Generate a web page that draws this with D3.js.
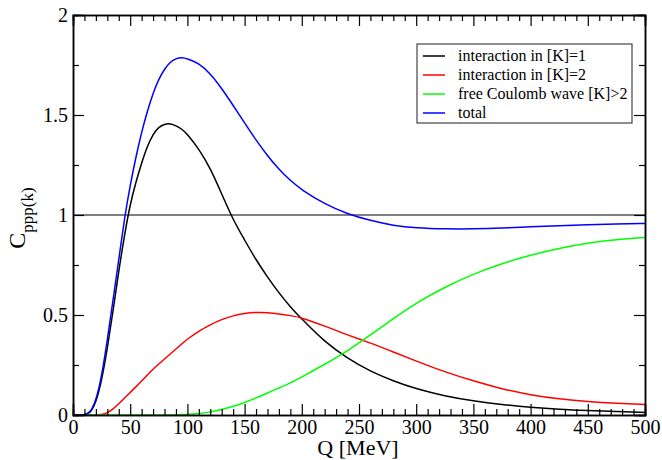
<!DOCTYPE html>
<html>
<head>
<meta charset="utf-8">
<script src="https://cdn.jsdelivr.net/npm/d3@7"></script>
<style>
  body { margin: 0; background: #fff; }
  svg text { font-family: "Liberation Serif", "DejaVu Serif", serif; }
</style>
</head>
<body>
<script>
// Q grid [MeV] and read-off curve values
const q      = [0, 10, 15, 20, 25, 30, 35, 40, 45, 50, 55, 60, 65, 70, 75, 80, 85, 90, 95, 100,
                110, 120, 130, 140, 150, 160, 170, 180, 190, 200,
                220, 240, 260, 280, 300, 325, 350, 375, 400, 425, 450, 475, 500];
const k1     = [0, 0, 0.008, 0.06, 0.17, 0.33, 0.52, 0.72, 0.90, 1.055, 1.165, 1.26, 1.345, 1.405, 1.44, 1.455, 1.457, 1.447, 1.43, 1.405,
                1.33, 1.235, 1.105, 0.975, 0.875, 0.775, 0.69, 0.61, 0.54, 0.48,
                0.365, 0.283, 0.218, 0.17, 0.13, 0.095, 0.07, 0.052, 0.038, 0.028, 0.022, 0.017, 0.013];
const k2     = [0, 0, 0, 0, 0.002, 0.01, 0.03, 0.055, 0.085, 0.113, 0.14, 0.17, 0.2, 0.23, 0.255, 0.28, 0.305, 0.33, 0.355, 0.38,
                0.42, 0.452, 0.478, 0.497, 0.508, 0.513, 0.512, 0.506, 0.497, 0.487,
                0.445, 0.40, 0.36, 0.315, 0.27, 0.215, 0.17, 0.13, 0.10, 0.08, 0.066, 0.058, 0.053];
const kfree  = [0, 0, 0, 0, 0, 0, 0, 0, 0, 0, 0, 0, 0, 0, 0, 0, 0, 0.001, 0.002, 0.003,
                0.007, 0.015, 0.027, 0.043, 0.062, 0.085, 0.11, 0.135, 0.16, 0.19,
                0.253, 0.32, 0.40, 0.482, 0.56, 0.64, 0.705, 0.758, 0.80, 0.834, 0.86, 0.877, 0.888];
const total  = [0, 0, 0.01, 0.07, 0.19, 0.375, 0.575, 0.775, 0.985, 1.15, 1.29, 1.415, 1.52, 1.61, 1.68, 1.73, 1.765, 1.783, 1.788, 1.782,
                1.759, 1.708, 1.633, 1.548, 1.46, 1.374, 1.296, 1.228, 1.172, 1.125,
                1.055, 1.005, 0.972, 0.947, 0.935, 0.93, 0.93, 0.934, 0.941, 0.947, 0.952, 0.955, 0.958];

const seriesNames  = ["interaction in [K]=1", "interaction in [K]=2", "free Coulomb wave [K]>2", "total"];
const seriesValues = [k1, k2, kfree, total];
const seriesColors = ["#000000", "#ff0000", "#00ff00", "#0000ff"];

const xTicks = d3.range(0, 501, 50);
const yTicks = [0, 0.5, 1, 1.5, 2];

const width = 662, height = 460;
const margin = {left: 73, right: 17, top: 15, bottom: 45};
const serif = "Liberation Serif, DejaVu Serif, serif";

const svg = d3.select("body").append("svg")
    .attr("width", width)
    .attr("height", height)
    .attr("font-family", serif);

const x = d3.scaleLinear().domain([0, 500]).range([margin.left, width - margin.right]);
const y = d3.scaleLinear().domain([0, 2]).range([height - margin.bottom, margin.top]);

// reference line at C = 1
svg.append("line")
    .attr("x1", x(0)).attr("x2", x(500))
    .attr("y1", y(1)).attr("y2", y(1))
    .style("stroke", "#000").style("stroke-width", 1.2);

// B-spline smooths out reading noise in the sampled points
const line = d3.line()
    .x(d => x(d[0]))
    .y(d => y(d[1]))
    .curve(d3.curveBasis);

seriesValues.forEach((vals, i) => {
    svg.append("path")
        .datum(q.map((v, j) => [v, vals[j]]))
        .attr("d", line)
        .style("fill", "none")
        .style("stroke", seriesColors[i])
        .style("stroke-width", 1.5);
});

// frame with inward ticks on all four sides
function styleAxis(g) {
    g.attr("font-family", serif);
    g.selectAll("path").style("stroke", "#000").style("stroke-width", 1.5);
    g.selectAll("line").style("stroke", "#000").style("stroke-width", 1.2);
    g.selectAll("text").style("font-size", "20px").style("fill", "#000");
}

const xMinor = d3.range(0, 501, 10).filter(v => v % 50 !== 0);
const yMinor = [0.25, 0.75, 1.25, 1.75];

[[d3.axisBottom, y(0), 1], [d3.axisTop, y(2), -1]].forEach(([ax, pos, dir]) => {
    svg.append("g").attr("transform", `translate(0,${pos})`)
        .call(ax(x).tickValues(xMinor).tickSize(-6).tickFormat(""))
        .call(styleAxis);
    svg.append("g").attr("transform", `translate(0,${pos})`)
        .call(ax(x).tickValues(xTicks).tickSize(-11).tickPadding(dir > 0 ? 5 : 0)
            .tickFormat(dir > 0 ? d3.format("d") : ""))
        .call(styleAxis);
});

[[d3.axisLeft, x(0), 1], [d3.axisRight, x(500), -1]].forEach(([ax, pos, dir]) => {
    svg.append("g").attr("transform", `translate(${pos},0)`)
        .call(ax(y).tickValues(yMinor).tickSize(-6).tickFormat(""))
        .call(styleAxis);
    svg.append("g").attr("transform", `translate(${pos},0)`)
        .call(ax(y).tickValues(yTicks).tickSize(-11).tickPadding(dir > 0 ? 5 : 0)
            .tickFormat(dir > 0 ? (d => String(d)) : ""))
        .call(styleAxis);
});

// axis titles
svg.append("text")
    .attr("x", 358)
    .attr("y", 455)
    .attr("text-anchor", "middle")
    .style("font-size", "22px")
    .text("Q [MeV]");

const yt = svg.append("text")
    .attr("transform", `translate(25,218) rotate(-90)`)
    .attr("text-anchor", "middle")
    .style("font-size", "24px");
yt.append("tspan").text("C");
yt.append("tspan").attr("dy", 8).style("font-size", "17px").text("ppp(k)");

// legend
const lg = svg.append("g");
lg.append("rect")
    .attr("x", 417).attr("y", 44).attr("width", 215).attr("height", 79)
    .style("fill", "#fff").style("stroke", "#444").style("stroke-width", 1.2);
seriesNames.forEach((name, i) => {
    const yy = 56 + i * 19;
    lg.append("line")
        .attr("x1", 423).attr("x2", 445).attr("y1", yy).attr("y2", yy)
        .style("stroke", seriesColors[i]).style("stroke-width", 1.5);
    lg.append("text")
        .attr("x", 458).attr("y", yy + 5)
        .style("font-size", "16px")
        .text(name);
});
</script>
</body>
</html>
